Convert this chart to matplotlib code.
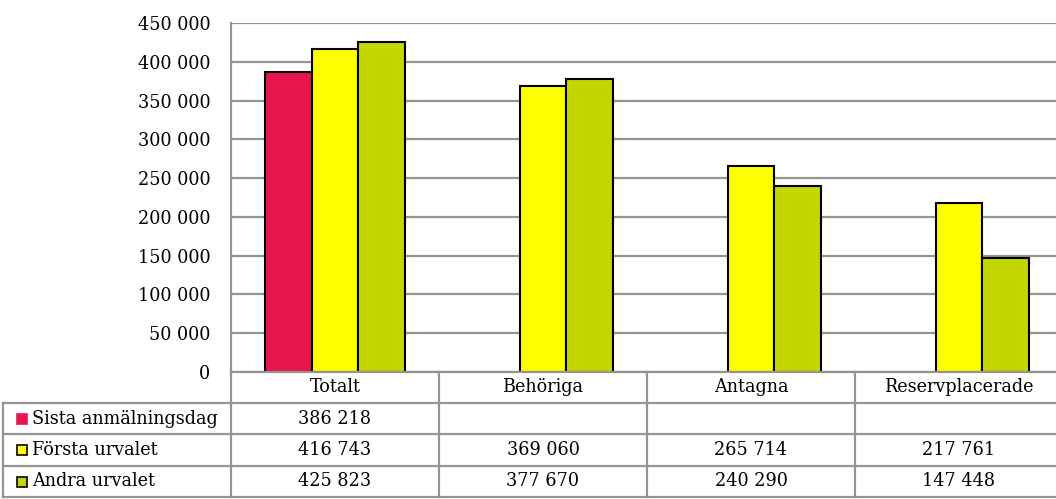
import matplotlib
matplotlib.use("Agg")
import matplotlib.pyplot as plt
import numpy as np
from matplotlib.transforms import blended_transform_factory
from matplotlib.lines import Line2D
from matplotlib.patches import Rectangle

categories = ["Totalt", "Behöriga", "Antagna", "Reservplacerade"]
series_names = ["Sista anmälningsdag", "Första urvalet", "Andra urvalet"]
sista = [386218, None, None, None]
forsta = [416743, 369060, 265714, 217761]
andra = [425823, 377670, 240290, 147448]
series = [sista, forsta, andra]
colors = ["#E8164C", "#FFFF00", "#C4D600"]
yticks = [0, 50000, 100000, 150000, 200000, 250000, 300000, 350000, 400000, 450000]

W, H = 1056, 499
fig = plt.figure(figsize=(W / 100, H / 100), dpi=100)
plt.rcParams['font.family'] = ['DejaVu Serif']
fs = 12.7

def fy(py):
    return 1 - py / H

def fx(px):
    return px / W

ax = fig.add_axes([fx(231), fy(372), fx(1063) - fx(231), fy(23) - fy(372)])
ax.set_xlim(-0.5, len(categories) - 0.5)
ax.set_ylim(0, 450000)

bw = 0.224
x = np.arange(len(categories))
for i, (vals, col) in enumerate(zip(series, colors)):
    for j, v in enumerate(vals):
        if v is None:
            continue
        ax.bar(x[j] + (i - 1) * bw, v, width=bw, color=col, edgecolor="black",
               linewidth=1.5, zorder=3)

grid_col = "#949494"
ax.set_yticks(yticks)
ax.set_yticklabels([f"{t:,}".replace(",", " ") for t in yticks], fontsize=fs)
ax.yaxis.grid(True, color=grid_col, linewidth=1.6, zorder=0)
ax.tick_params(axis="y", length=0, pad=15)
ax.set_xticks([])
for s in ["top", "right", "bottom"]:
    ax.spines[s].set_visible(False)
ax.spines["left"].set_color(grid_col)
ax.spines["left"].set_linewidth(1.6)

# data table
trans = blended_transform_factory(ax.transData, fig.transFigure)
row_y = [372, 403, 434, 466, 497]
left_px = 3
lw = 1.6
fig.add_artist(Line2D([fx(231), 1.0], [fy(372), fy(372)], color=grid_col, lw=lw))
for py in row_y[1:]:
    fig.add_artist(Line2D([fx(left_px), 1.0], [fy(py), fy(py)], color=grid_col, lw=lw))
fig.add_artist(Line2D([fx(left_px), fx(left_px)], [fy(403), fy(497)], color=grid_col, lw=lw))
for xb in np.arange(len(categories) + 1) - 0.5:
    ax.add_line(Line2D([xb, xb], [fy(372), fy(497)], transform=trans, color=grid_col,
                       lw=lw, clip_on=False))

for j, c in enumerate(categories):
    ax.text(x[j], fy((372 + 403) / 2), c, transform=trans, ha="center", va="center",
            fontsize=fs, clip_on=False)
for i, (name, vals, col) in enumerate(zip(series_names, series, colors)):
    yc = (row_y[i + 1] + row_y[i + 2]) / 2
    ec = col if i == 0 else "black"
    fig.add_artist(Rectangle((fx(17), fy(yc + 5)), fx(10), fy(0) - fy(10),
                             facecolor=col, edgecolor=ec, lw=1.2))
    fig.text(fx(32), fy(yc), name, ha="left", va="center", fontsize=fs)
    for j, v in enumerate(vals):
        if v is None:
            continue
        ax.text(x[j], fy(yc), f"{v:,}".replace(",", " "), transform=trans,
                ha="center", va="center", fontsize=fs, clip_on=False)

fig.savefig("out.png", dpi=100)
